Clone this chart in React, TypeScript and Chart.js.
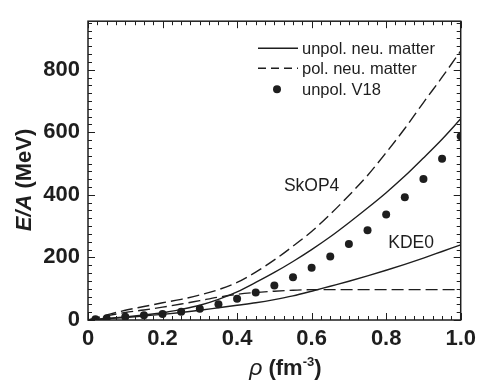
import { useEffect, useRef } from 'react';
import { Chart, registerables } from 'chart.js';

Chart.register(...registerables);

// densities (fm^-3)
const rho = [0, 0.05, 0.1, 0.15, 0.2, 0.25, 0.3, 0.35, 0.4, 0.45, 0.5, 0.55, 0.6, 0.65, 0.7, 0.75, 0.8, 0.85, 0.9, 0.95, 1.0];
// SkOP4 unpolarized neutron matter (solid)
const skop4Unpol = [0, 5, 10, 16, 23, 34, 47, 66, 90, 120, 152, 187, 225, 266, 311, 358, 407, 460, 518, 578, 643];
// SkOP4 polarized neutron matter (dashed)
const skop4Pol = [0, 16, 31, 43, 55, 66, 80, 97, 120, 153, 192, 236, 283, 338, 398, 462, 535, 612, 695, 776, 860];
// KDE0 unpolarized neutron matter (solid)
const kde0Unpol = [0, 4, 8, 13, 18, 24, 31, 39, 47, 55, 65, 77, 92, 108, 124, 141, 159, 178, 198, 219, 240];
// KDE0 polarized neutron matter (dashed)
const kde0Pol = [0, 13, 24, 32, 41, 51, 62, 73, 82, 88, 92, 95, 97, 97, 97, 97, 97, 97, 97, 97, 97];
// unpolarized V18 (dots)
const v18Rho = [0.02, 0.05, 0.1, 0.15, 0.2, 0.25, 0.3, 0.35, 0.4, 0.45, 0.5, 0.55, 0.6, 0.65, 0.7, 0.75, 0.8, 0.85, 0.9, 0.95, 1.0];
const v18 = [2, 5, 10, 15, 19, 26, 36, 50, 68, 88, 110, 137, 167, 203, 243, 287, 337, 392, 451, 515, 587];

const xTickValues = [0, 0.2, 0.4, 0.6, 0.8, 1.0];
const xTickLabels = ['0', '0.2', '0.4', '0.6', '0.8', '1.0'];
const yTickValues = [0, 200, 400, 600, 800];
const yTickLabels = ['0', '200', '400', '600', '800'];
const xMinorStep = 0.025;
const yMinorStep = 25;
const xMax = 1.0;
const yMax = 955;

const legendLabels = ['unpol. neu. matter', 'pol. neu. matter', 'unpol. V18'];
const curveLabels = ['SkOP4', 'KDE0'];

const INK = '#1e1e1e';
const FONT = '"Liberation Sans", Arial, Helvetica, sans-serif';
const DASH = [12, 5];

const pts = (xs: number[], ys: number[]) => xs.map((x, i) => ({ x, y: ys[i] }));

const framePlugin = {
  id: 'framePlugin',
  afterDraw(chart: any) {
    const { ctx, chartArea, scales } = chart;
    const { left, right, top, bottom } = chartArea;
    const xs = scales.x;
    const ys = scales.y;
    ctx.save();
    ctx.strokeStyle = INK;
    ctx.lineWidth = 1.5;
    ctx.strokeRect(left, top, right - left, bottom - top);

    ctx.lineWidth = 1;
    const nx = Math.round(xMax / xMinorStep);
    for (let i = 0; i <= nx; i++) {
      const v = i * xMinorStep;
      const major = i % 8 === 0;
      const len = major ? 7 : 4;
      const px = Math.round(xs.getPixelForValue(v)) + 0.5;
      ctx.beginPath();
      ctx.moveTo(px, bottom);
      ctx.lineTo(px, bottom - len);
      ctx.moveTo(px, top);
      ctx.lineTo(px, top + len);
      ctx.stroke();
    }
    const ny = Math.floor(yMax / yMinorStep);
    for (let i = 0; i <= ny; i++) {
      const v = i * yMinorStep;
      const major = i % 8 === 0;
      const len = major ? 7 : 4;
      const py = Math.round(ys.getPixelForValue(v)) + 0.5;
      ctx.beginPath();
      ctx.moveTo(left, py);
      ctx.lineTo(left + len, py);
      ctx.moveTo(right, py);
      ctx.lineTo(right - len, py);
      ctx.stroke();
    }

    // legend
    ctx.fillStyle = INK;
    ctx.font = `16.5px ${FONT}`;
    ctx.textBaseline = 'middle';
    ctx.textAlign = 'left';
    const lx0 = left + 170;
    const lx1 = left + 210;
    const tx = left + 214;
    const rows = [top + 27, top + 47, top + 68];
    ctx.lineWidth = 1.4;
    ctx.beginPath();
    ctx.moveTo(lx0, rows[0]);
    ctx.lineTo(lx1, rows[0]);
    ctx.stroke();
    ctx.setLineDash([8, 5]);
    ctx.beginPath();
    ctx.moveTo(lx0, rows[1]);
    ctx.lineTo(lx1, rows[1]);
    ctx.stroke();
    ctx.setLineDash([]);
    ctx.beginPath();
    ctx.arc(left + 189, rows[2], 4, 0, Math.PI * 2);
    ctx.fill();
    legendLabels.forEach((t, i) => ctx.fillText(t, tx, rows[i] + 1));

    // curve annotations
    ctx.font = `17.5px ${FONT}`;
    ctx.textAlign = 'center';
    ctx.fillText(curveLabels[0], xs.getPixelForValue(0.6), ys.getPixelForValue(428));
    ctx.fillText(curveLabels[1], xs.getPixelForValue(0.867), ys.getPixelForValue(245));

    // x axis title: ρ (fm^-3)
    const segs = [
      { t: 'ρ', f: `italic 23px ${FONT}`, dy: 0 },
      { t: ' (fm', f: `bold 22px ${FONT}`, dy: 0 },
      { t: '-3', f: `bold 13px ${FONT}`, dy: -9 },
      { t: ')', f: `bold 22px ${FONT}`, dy: 0 },
    ];
    ctx.textAlign = 'left';
    ctx.textBaseline = 'alphabetic';
    let total = 0;
    segs.forEach((s) => {
      ctx.font = s.f;
      total += ctx.measureText(s.t).width;
    });
    let cx = (left + right) / 2 + 11 - total / 2;
    const base = 375;
    segs.forEach((s) => {
      ctx.font = s.f;
      ctx.fillText(s.t, cx, base + s.dy);
      cx += ctx.measureText(s.t).width;
    });

    // y axis title: E/A (MeV)
    const ysegs = [
      { t: 'E/A', f: `bold italic 22px ${FONT}` },
      { t: ' (MeV)', f: `bold 22px ${FONT}` },
    ];
    let ytotal = 0;
    ysegs.forEach((s) => {
      ctx.font = s.f;
      ytotal += ctx.measureText(s.t).width;
    });
    ctx.translate(31, 180);
    ctx.rotate(-Math.PI / 2);
    let yx = -ytotal / 2;
    ysegs.forEach((s) => {
      ctx.font = s.f;
      ctx.fillText(s.t, yx, 0);
      yx += ctx.measureText(s.t).width;
    });
    ctx.restore();
  },
};

export default function App() {
  const ref = useRef<HTMLCanvasElement | null>(null);
  useEffect(() => {
    if (!ref.current) return;
    const lineDs = (label: string, data: number[], dashed: boolean) => ({
      label,
      data: pts(rho, data),
      borderColor: INK,
      backgroundColor: INK,
      borderWidth: 1.4,
      borderDash: dashed ? DASH : [],
      pointRadius: 0,
      cubicInterpolationMode: 'monotone' as const,
      fill: false,
    });
    const chart = new Chart(ref.current, {
      type: 'line',
      data: {
        datasets: [
          lineDs('SkOP4 unpol.', skop4Unpol, false),
          lineDs('SkOP4 pol.', skop4Pol, true),
          lineDs('KDE0 unpol.', kde0Unpol, false),
          lineDs('KDE0 pol.', kde0Pol, true),
          {
            label: 'unpol. V18',
            data: pts(v18Rho, v18),
            showLine: false,
            pointRadius: 4,
            pointBackgroundColor: INK,
            pointBorderColor: INK,
            pointBorderWidth: 0,
            borderColor: INK,
            backgroundColor: INK,
          } as any,
        ],
      },
      options: {
        responsive: false,
        animation: false,
        layout: { padding: { left: 0, right: 16, top: 14, bottom: 0 } },
        plugins: { legend: { display: false }, tooltip: { enabled: false } },
        scales: {
          x: {
            type: 'linear',
            min: 0,
            max: xMax,
            grid: { display: false, drawTicks: false },
            border: { display: false },
            afterBuildTicks: (axis: any) => {
              axis.ticks = xTickValues.map((value) => ({ value }));
            },
            afterFit: (scale: any) => {
              scale.height = 61;
            },
            ticks: {
              color: INK,
              padding: 6,
              maxRotation: 0,
              font: { family: FONT, size: 22, weight: 'bold' },
              callback: (value: any) => xTickLabels[xTickValues.indexOf(Number(value))],
            },
          },
          y: {
            type: 'linear',
            min: 0,
            max: yMax,
            grid: { display: false, drawTicks: false },
            border: { display: false },
            afterBuildTicks: (axis: any) => {
              axis.ticks = yTickValues.map((value) => ({ value }));
            },
            afterFit: (scale: any) => {
              scale.width = 88;
            },
            ticks: {
              color: INK,
              padding: 8,
              font: { family: FONT, size: 22, weight: 'bold' },
              callback: (value: any) => yTickLabels[yTickValues.indexOf(Number(value))],
            },
          },
        },
      },
      plugins: [framePlugin],
    });
    return () => chart.destroy();
  }, []);
  return (
    <div style={{ position: 'absolute', left: 0, top: 0, width: 482, height: 381, background: '#fff' }}>
      <canvas ref={ref} width={482} height={381} />
    </div>
  );
}
